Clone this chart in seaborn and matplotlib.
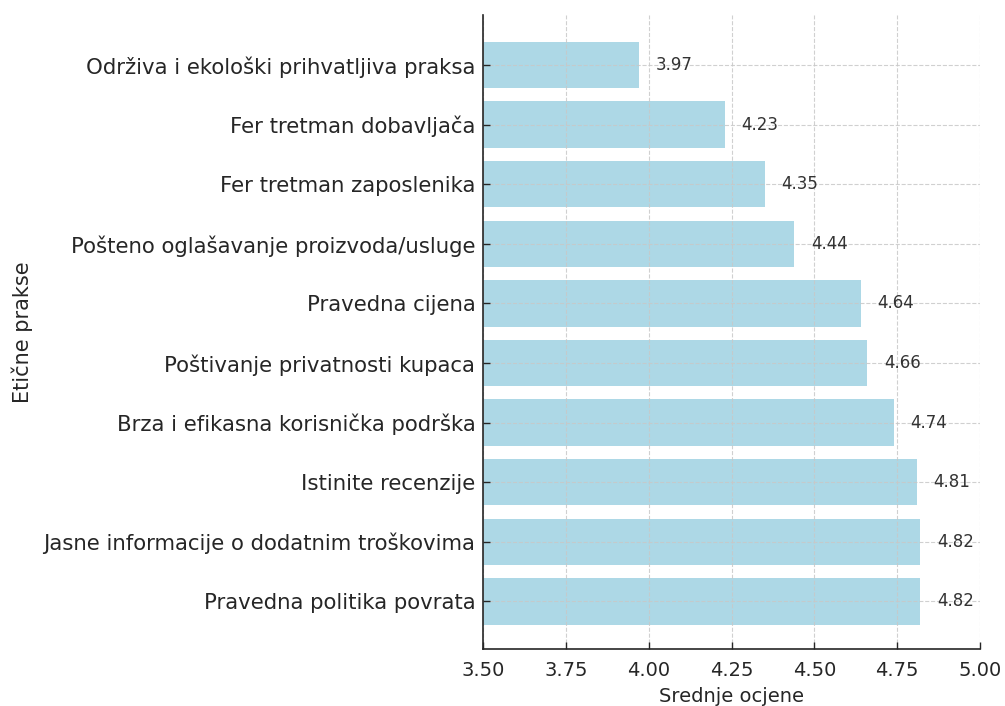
import matplotlib
matplotlib.use("Agg")
import matplotlib.pyplot as plt
import seaborn as sns
import pandas as pd

categories = [
    "Održiva i ekološki prihvatljiva praksa",
    "Fer tretman dobavljača",
    "Fer tretman zaposlenika",
    "Pošteno oglašavanje proizvoda/usluge",
    "Pravedna cijena",
    "Poštivanje privatnosti kupaca",
    "Brza i efikasna korisnička podrška",
    "Istinite recenzije",
    "Jasne informacije o dodatnim troškovima",
    "Pravedna politika povrata",
]
values = [3.97, 4.23, 4.35, 4.44, 4.64, 4.66, 4.74, 4.81, 4.82, 4.82]
x_ticks = [3.50, 3.75, 4.00, 4.25, 4.50, 4.75, 5.00]

df = pd.DataFrame({"Etične prakse": categories, "Srednje ocjene": values})

sns.set_style("white")
plt.rcParams["font.family"] = ["DejaVu Sans"]

fig = plt.figure(figsize=(10.05, 7.06), dpi=100)
ax = fig.add_axes([483/1005, 57/706, (980-483)/1005, (649-15)/706])

sns.barplot(data=df, y="Etične prakse", x="Srednje ocjene", orient="h",
            color="#ADD8E6", saturation=1, width=0.78, linewidth=0, ax=ax)

ax.set_xlim(3.5, 5.0)
ax.set_ylim(9.8, -0.84)
ax.set_xticks(x_ticks)
ax.set_xticklabels([f"{t:.2f}" for t in x_ticks])

ax.grid(True, linestyle="--", color="#c8c8c8", linewidth=0.8, alpha=0.85)
ax.set_axisbelow(False)

for i, v in enumerate(values):
    ax.text(v + 0.05, i, f"{v:.2f}", va="center", ha="left", fontsize=12, color="#333333")

ax.tick_params(axis="both", direction="in", colors="#262626", length=5, width=1.0,
               bottom=True, left=True)
ax.tick_params(axis="x", labelsize=14, pad=8.5)
ax.tick_params(axis="y", labelsize=15.3, pad=5.5)
for s in ["top", "right"]:
    ax.spines[s].set_visible(False)
for s in ["left", "bottom"]:
    ax.spines[s].set_color("#262626")
    ax.spines[s].set_linewidth(1.2)
    ax.spines[s].set_zorder(5)

ax.set_xlabel("Srednje ocjene", fontsize=14, color="#262626", labelpad=5.5)
ax.set_ylabel("Etične prakse", fontsize=15, color="#262626")
ax.yaxis.set_label_coords(-0.905, 0.5)

fig.savefig("out.png", dpi=100)
